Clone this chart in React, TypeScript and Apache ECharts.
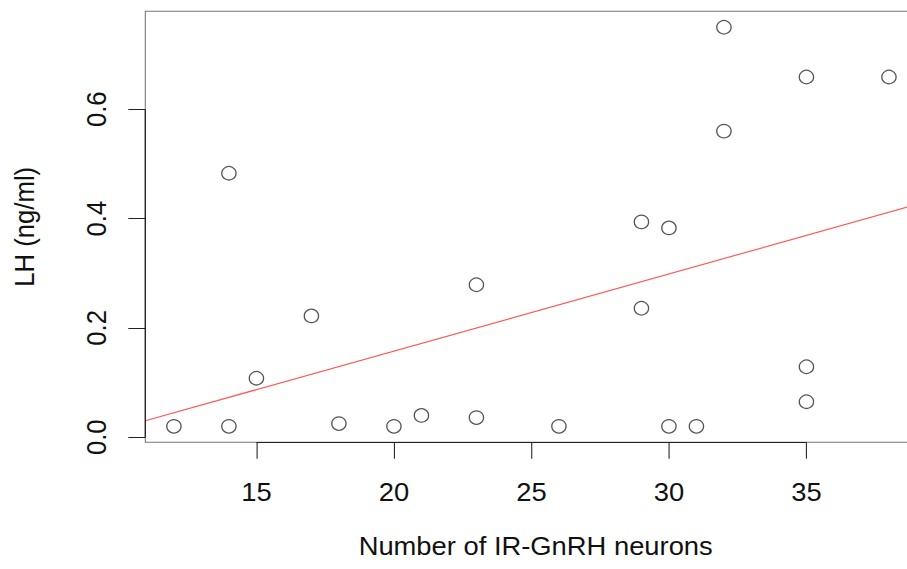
import React, { useEffect, useRef } from "react";
import * as echarts from "echarts";

// Data
const neurons: number[] = [12, 14, 14, 15, 17, 18, 20, 21, 23, 23, 26, 29, 29, 30, 30, 31, 32, 32, 35, 35, 35, 38];
const lhValues: number[] = [0.02, 0.02, 0.483, 0.108, 0.222, 0.025, 0.02, 0.04, 0.279, 0.036, 0.02, 0.394, 0.236, 0.383, 0.02, 0.02, 0.75, 0.56, 0.659, 0.129, 0.065, 0.659];
const xTickValues: number[] = [15, 20, 25, 30, 35];
const yTickValues: number[] = [0, 0.2, 0.4, 0.6];
const xTitle = "Number of IR-GnRH neurons";
const yTitle = "LH (ng/ml)";

// R-style axis extents (data range padded by 4%)
function padded(v: number[]): [number, number] {
  const lo = Math.min(...v);
  const hi = Math.max(...v);
  const p = (hi - lo) * 0.04;
  return [lo - p, hi + p];
}
const [X_MIN, X_MAX] = padded(neurons);
const [Y_MIN, Y_MAX] = padded(lhValues);

// least squares fit (abline(lm(y ~ x)))
function fit(x: number[], y: number[]): [number, number] {
  const n = x.length;
  const mx = x.reduce((a, b) => a + b, 0) / n;
  const my = y.reduce((a, b) => a + b, 0) / n;
  let sxy = 0;
  let sxx = 0;
  for (let i = 0; i < n; i++) {
    sxy += (x[i] - mx) * (y[i] - my);
    sxx += (x[i] - mx) * (x[i] - mx);
  }
  const b = sxy / sxx;
  return [my - b * mx, b];
}
const [intercept, slope] = fit(neurons, lhValues);

const SCALE_X = 907 / 852;
const FONT = "'Liberation Sans', Arial, Helvetica, sans-serif";
const FS = 25.7;

export default function App() {
  const ref = useRef<HTMLDivElement>(null);

  useEffect(() => {
    if (!ref.current) return;
    const chart = echarts.init(ref.current, undefined, { renderer: "svg" });
    const points = neurons.map((x, i) => [x, lhValues[i]]);
    chart.setOption({
      animation: false,
      backgroundColor: "#ffffff",
      grid: {
        left: 136.5,
        right: -9.9,
        top: 11.3,
        bottom: 126.7,
        show: true,
        borderColor: "#777777",
        borderWidth: 1,
        containLabel: false,
        outerBoundsMode: "none",
      },
      xAxis: {
        type: "value",
        min: X_MIN,
        max: X_MAX,
        name: xTitle,
        nameLocation: "middle",
        nameGap: 91,
        nameMoveOverlap: false,
        nameTextStyle: { fontFamily: FONT, fontSize: FS, color: "#111", padding: [0, 0, 0, 8] },
        axisLine: { show: false, onZero: false },
        axisTick: { show: true, length: 16.5, customValues: xTickValues, lineStyle: { color: "#222", width: 1 } },
        axisLabel: { show: true, customValues: xTickValues, margin: 37, fontFamily: FONT, fontSize: FS, color: "#111" },
        splitLine: { show: false },
      },
      yAxis: {
        type: "value",
        min: Y_MIN,
        max: Y_MAX,
        name: yTitle,
        nameLocation: "middle",
        nameGap: 100,
        nameRotate: 90,
        nameMoveOverlap: false,
        nameTextStyle: { fontFamily: FONT, fontSize: FS, color: "#111" },
        axisLine: { show: false, onZero: false },
        axisTick: { show: true, length: 16, customValues: yTickValues, lineStyle: { color: "#222", width: 1 } },
        axisLabel: {
          show: true,
          customValues: yTickValues,
          rotate: 90,
          margin: 33,
          fontFamily: FONT,
          fontSize: FS,
          color: "#111",
          formatter: (v: number) => v.toFixed(1),
        },
        splitLine: { show: false },
      },
      series: [
        {
          type: "scatter",
          data: points,
          symbol: "circle",
          symbolSize: 13.4,
          itemStyle: { color: "rgba(0,0,0,0)", borderColor: "#2a2a2a", borderWidth: 1.25 },
          silent: true,
          markLine: {
            silent: true,
            symbol: ["none", "none"],
            label: { show: false },
            lineStyle: { type: "solid", color: "#222", width: 1.2 },
            data: [
              [{ coord: [xTickValues[0], Y_MIN] }, { coord: [xTickValues[xTickValues.length - 1], Y_MIN] }],
              [{ coord: [X_MIN, yTickValues[0]] }, { coord: [X_MIN, yTickValues[yTickValues.length - 1]] }],
            ],
          },
        },
        {
          type: "line",
          data: [
            [X_MIN, intercept + slope * X_MIN],
            [X_MAX, intercept + slope * X_MAX],
          ],
          showSymbol: false,
          symbol: "none",
          clip: true,
          silent: true,
          lineStyle: { color: "#ff5a5a", width: 1.2 },
        },
      ],
    });
    return () => chart.dispose();
  }, []);

  return (
    <div
      ref={ref}
      style={{
        position: "absolute",
        left: 0,
        top: 0,
        width: 852,
        height: 569,
        transform: `scaleX(${SCALE_X})`,
        transformOrigin: "0 0",
        background: "#fff",
      }}
    />
  );
}
